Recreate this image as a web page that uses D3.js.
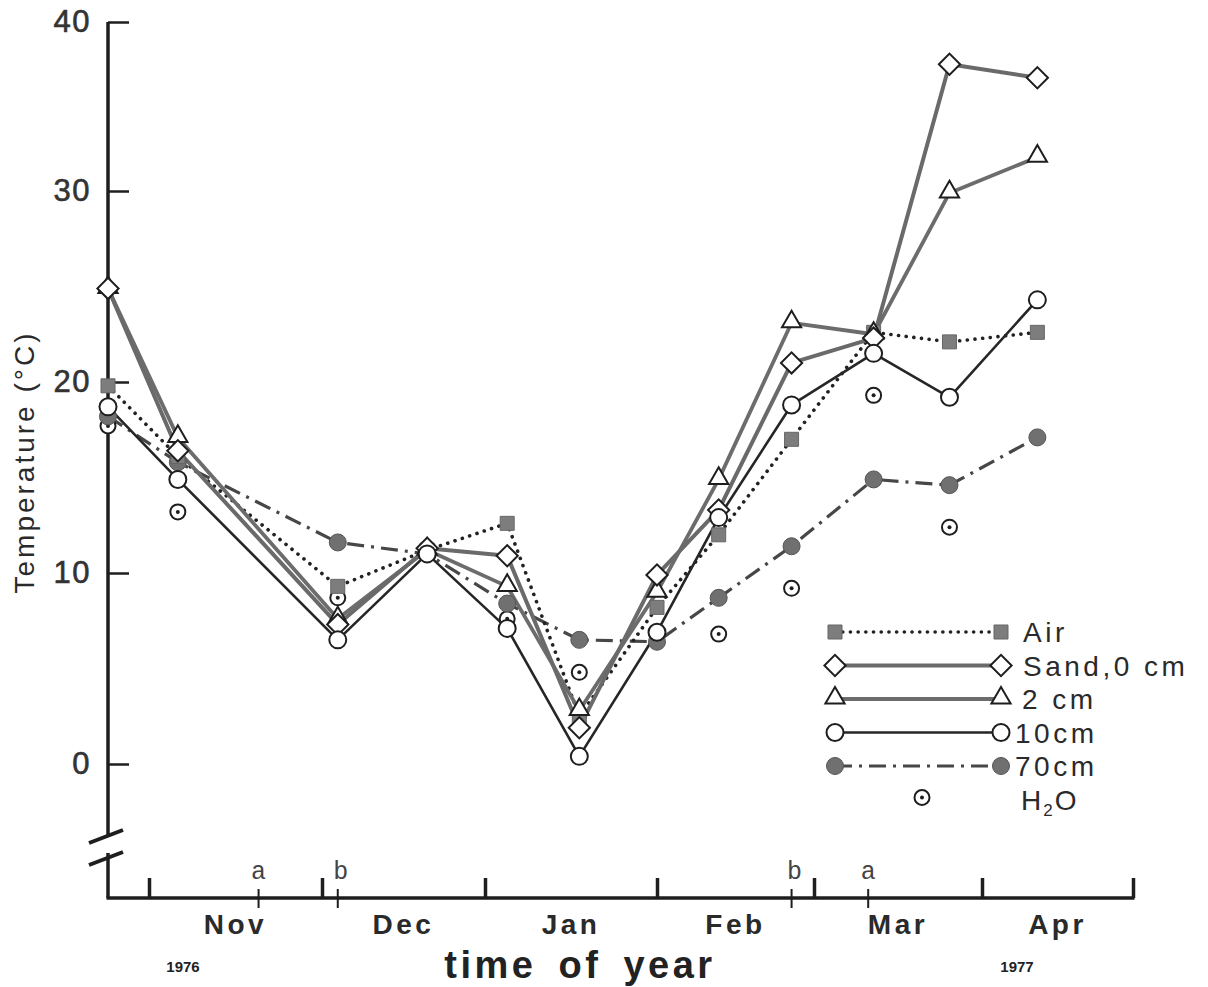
<!DOCTYPE html>
<html>
<head>
<meta charset="utf-8">
<script src="https://cdn.jsdelivr.net/npm/d3@7/dist/d3.min.js"></script>
<style>
  html, body { margin: 0; padding: 0; background: #fff; }
  svg { display: block; }
  text { font-family: "Liberation Sans", Arial, Helvetica, sans-serif; }
</style>
</head>
<body>
<svg id="chart" width="1208" height="987"></svg>
<script>
// ---------------- DATA ----------------
const sampleDates = ["1976-10-24","1976-11-06","1976-12-04","1976-12-21","1977-01-05","1977-01-18",
                     "1977-02-01","1977-02-12","1977-02-25","1977-03-12","1977-03-26","1977-04-12"];
const airTemp   = [19.8, 16.1,  9.3, 11.2, 12.6, 2.5, 8.2, 12.0, 17.0, 22.6, 22.1, 22.6];
const sand0cm   = [24.9, 16.4,  7.3, 11.3, 10.9, 1.9, 9.9, 13.3, 21.0, 22.3, 37.5, 36.7];
const sand2cm   = [24.9, 17.1,  7.6, 11.2,  9.3, 2.8, 9.0, 14.9, 23.1, 22.5, 29.9, 32.0];
const sand10cm  = [18.7, 14.9,  6.5, 11.0,  7.1, 0.4, 6.9, 12.9, 18.8, 21.5, 19.2, 24.3];
const sand70cm  = [18.2, 15.8, 11.6, 11.0,  8.4, 6.5, 6.4,  8.7, 11.4, 14.9, 14.6, 17.1];
const waterTemp = [17.7, 13.2,  8.7, null,  7.6, 4.8, null, 6.8,  9.2, 19.3, 12.4, null];

const monthStarts = ["1976-11-01","1976-12-01","1977-01-01","1977-02-01","1977-03-01","1977-04-01","1977-05-01"];
const monthLabels = ["Nov","Dec","Jan","Feb","Mar","Apr"];
const markDates   = ["1976-11-20","1976-12-04","1977-02-25","1977-03-11"];
const markLabels  = ["a","b","b","a"];
const yTicks      = [0, 10, 20, 30, 40];
const legendLabels = ["Air","Sand,0 cm","2 cm","10cm","70cm"];

// ---------------- SCALES ----------------
const parse = d3.timeParse("%Y-%m-%d");
const axisStart = parse("1976-10-24");
const svg = d3.select("#chart");

// hand-drawn month axis: piecewise time scale (start, month boundaries)
const x = d3.scaleTime()
  .domain([axisStart, ...monthStarts.map(parse)])
  .range([108, 149, 322, 485, 657, 814, 982, 1133]);
// hand-drawn temperature axis (0..30 regular, 30..40 compressed)
const y = d3.scaleLinear().domain([0, 30, 40]).range([764, 191, 22]);

const axisY = 898;
const axisX = x(axisStart);
const ink = "#1e1e1e";

// ---------------- AXES ----------------
const g = svg.append("g");
g.append("line").attr("x1", axisX).attr("x2", axisX).attr("y1", y(40)).attr("y2", 836)
  .attr("stroke", ink).attr("stroke-width", 3.5);
g.append("line").attr("x1", axisX).attr("x2", axisX).attr("y1", 853).attr("y2", axisY)
  .attr("stroke", ink).attr("stroke-width", 3.5);
g.append("line").attr("x1", 89).attr("x2", 123).attr("y1", 843).attr("y2", 830)
  .attr("stroke", ink).attr("stroke-width", 4);
g.append("line").attr("x1", 89).attr("x2", 123).attr("y1", 865).attr("y2", 852)
  .attr("stroke", ink).attr("stroke-width", 4);

const yAxis = d3.axisLeft(y).tickValues(yTicks).tickSizeInner(-21).tickSizeOuter(0).tickPadding(17)
  .tickFormat(d3.format("d"));
const yg = g.append("g").attr("transform", `translate(${axisX},0)`).call(yAxis);
yg.select(".domain").remove();
yg.selectAll(".tick line").attr("stroke", ink).attr("stroke-width", 2.5);
yg.selectAll(".tick text").attr("font-size", 31).attr("fill", "#333")
  .attr("letter-spacing", 1.5).attr("stroke", "#333").attr("stroke-width", 0.6)
  .style("font-family", "'Liberation Sans', Arial, sans-serif");

// horizontal axis
g.append("line").attr("x1", axisX - 1.5).attr("x2", x(parse("1977-05-01")) + 1.5)
  .attr("y1", axisY).attr("y2", axisY).attr("stroke", ink).attr("stroke-width", 3.5);
const xAxis = d3.axisBottom(x).tickValues(monthStarts.map(parse)).tickSizeInner(-20).tickSizeOuter(0)
  .tickFormat("");
const xg = g.append("g").attr("transform", `translate(0,${axisY})`).call(xAxis);
xg.select(".domain").remove();
xg.selectAll(".tick line").attr("stroke", ink).attr("stroke-width", 3.5);

const mb = monthStarts.map(parse);
g.selectAll(".month").data(monthLabels).join("text")
  .attr("x", (d, i) => (x(mb[i]) + x(mb[i + 1])) / 2)
  .attr("y", 934)
  .attr("text-anchor", "middle")
  .attr("font-size", 28).attr("font-weight", "bold").attr("letter-spacing", 3.5)
  .attr("fill", "#2a2a2a").text(d => d);

g.selectAll(".mk").data(markDates).join("line")
  .attr("x1", d => x(parse(d))).attr("x2", d => x(parse(d)))
  .attr("y1", axisY - 9).attr("y2", axisY + 10)
  .attr("stroke", ink).attr("stroke-width", 2);
g.selectAll(".mkl").data(markLabels).join("text")
  .attr("x", (d, i) => x(parse(markDates[i])) + (d === "b" ? 3 : 0))
  .attr("y", 879).attr("text-anchor", "middle")
  .attr("font-size", 25).style("font-family", "'Liberation Mono', 'DejaVu Sans Mono', monospace")
  .attr("fill", "#444").text(d => d);

g.append("text").attr("transform", "translate(34,462) rotate(-90)")
  .attr("text-anchor", "middle").attr("font-size", 28).attr("letter-spacing", 3)
  .attr("fill", "#2a2a2a").text("Temperature (\u00B0C)");
g.append("text").attr("x", 580).attr("y", 978).attr("text-anchor", "middle")
  .attr("font-size", 38).attr("font-weight", "bold").attr("letter-spacing", 3.5)
  .attr("word-spacing", 8).attr("fill", "#222").text("time of year");
g.append("text").attr("x", 183).attr("y", 972).attr("text-anchor", "middle")
  .attr("font-size", 15).attr("font-weight", "bold").attr("fill", "#222").text("1976");
g.append("text").attr("x", 1017).attr("y", 972).attr("text-anchor", "middle")
  .attr("font-size", 15).attr("font-weight", "bold").attr("fill", "#222").text("1977");

// ---------------- SERIES ----------------
const series = [
  { name: "70cm", values: sand70cm, stroke: "#474747", width: 3.2, dash: "17,7,3,7", cap: "butt", marker: "fillcircle" },
  { name: "Air",  values: airTemp,  stroke: "#222",    width: 3.6, dash: "0.1,7.6", cap: "round", marker: "square" },
  { name: "2cm",  values: sand2cm,  stroke: "#6c6c6c", width: 3.8, dash: null, cap: "butt", marker: "triangle" },
  { name: "0cm",  values: sand0cm,  stroke: "#6a6a6a", width: 4.0, dash: null, cap: "butt", marker: "diamond" },
  { name: "10cm", values: sand10cm, stroke: "#262626", width: 2.6, dash: null, cap: "butt", marker: "circle" }
];

const line = d3.line().defined(d => d.v != null).x(d => x(d.t)).y(d => y(d.v));
const pts = vals => vals.map((v, i) => ({ t: parse(sampleDates[i]), v }));

const lineG = svg.append("g");
series.forEach(s => {
  lineG.append("path").datum(pts(s.values))
    .attr("d", line).attr("fill", "none")
    .attr("stroke", s.stroke).attr("stroke-width", s.width)
    .attr("stroke-dasharray", s.dash).attr("stroke-linecap", s.cap)
    .attr("stroke-linejoin", "round");
});

function drawMarker(sel, type) {
  if (type === "square") {
    sel.append("path").attr("d", d3.symbol(d3.symbolSquare, 196)())
      .attr("fill", "#7d7d7d").attr("stroke", "#666").attr("stroke-width", 1);
  } else if (type === "fillcircle") {
    sel.append("circle").attr("r", 8.5).attr("fill", "#707070").attr("stroke", "#555").attr("stroke-width", 1);
  } else if (type === "diamond") {
    sel.append("path").attr("d", d3.symbol(d3.symbolSquare, 225)()).attr("transform", "rotate(45)")
      .attr("fill", "#fff").attr("stroke", ink).attr("stroke-width", 2);
  } else if (type === "triangle") {
    sel.append("path").attr("d", d3.symbol(d3.symbolTriangle, 160)()).attr("transform", "translate(0,-1)")
      .attr("fill", "#fff").attr("stroke", ink).attr("stroke-width", 2);
  } else if (type === "circle") {
    sel.append("circle").attr("r", 8.5).attr("fill", "#fff").attr("stroke", ink).attr("stroke-width", 2);
  } else if (type === "water") {
    sel.append("circle").attr("r", 7.5).attr("fill", "#fff").attr("stroke", ink).attr("stroke-width", 2);
    sel.append("circle").attr("r", 2).attr("fill", ink);
  }
}

const markG = svg.append("g");
pts(waterTemp).filter(d => d.v != null).forEach(d => {
  const m = markG.append("g").attr("transform", `translate(${x(d.t)},${y(d.v)})`);
  drawMarker(m, "water");
});
series.forEach(s => {
  pts(s.values).forEach(d => {
    const m = markG.append("g").attr("transform", `translate(${x(d.t)},${y(d.v)})`);
    drawMarker(m, s.marker);
  });
});

// ---------------- LEGEND ----------------
const legend = [
  { label: legendLabels[0], s: series[1], tx: 1023 },
  { label: legendLabels[1], s: series[3], tx: 1023 },
  { label: legendLabels[2], s: series[2], tx: 1022 },
  { label: legendLabels[3], s: series[4], tx: 1015 },
  { label: legendLabels[4], s: series[0], tx: 1015 }
];
const lx1 = 835, lx2 = 1001, ly0 = 632, lstep = 33.5;
const lg = svg.append("g");
legend.forEach((L, i) => {
  const yy = ly0 + i * lstep;
  lg.append("line").attr("x1", lx1).attr("x2", lx2).attr("y1", yy).attr("y2", yy)
    .attr("stroke", L.s.stroke).attr("stroke-width", L.s.width)
    .attr("stroke-dasharray", L.s.dash).attr("stroke-linecap", L.s.cap);
  [lx1, lx2].forEach(xx => drawMarker(lg.append("g").attr("transform", `translate(${xx},${yy})`), L.s.marker));
  lg.append("text").attr("x", L.tx).attr("y", yy + 10).attr("font-size", 28)
    .attr("letter-spacing", 3.5).attr("fill", "#2a2a2a").text(L.label);
});
const wy = ly0 + 5 * lstep;
drawMarker(lg.append("g").attr("transform", `translate(922,${wy - 2})`), "water");
const ht = lg.append("text").attr("x", 1021).attr("y", wy + 10).attr("font-size", 28)
  .attr("letter-spacing", 2).attr("fill", "#2a2a2a");
ht.append("tspan").text("H");
ht.append("tspan").attr("font-size", 17).attr("dy", 6).text("2");
ht.append("tspan").attr("dy", -6).text("O");
</script>
</body>
</html>
